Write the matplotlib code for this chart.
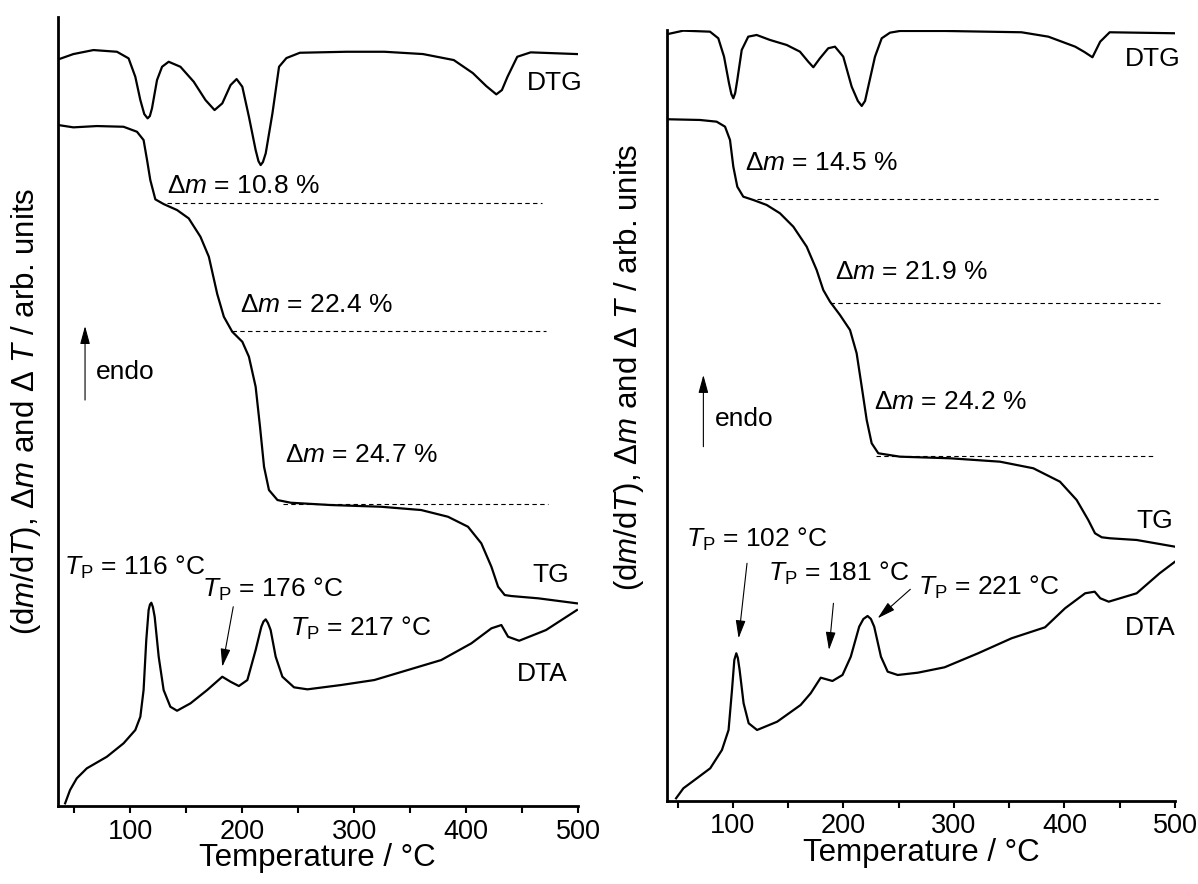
import matplotlib.pyplot as plt
from matplotlib.ticker import MultipleLocator

plt.rcParams['font.family'] = 'Liberation Sans'
plt.rcParams['mathtext.fontset'] = 'custom'
plt.rcParams['mathtext.rm'] = 'Liberation Sans'
plt.rcParams['mathtext.it'] = 'Liberation Sans:italic'

# ---- sample 1 (left) ----
dtg1_T = [35.8, 49.2, 67.1, 88.1, 98.5, 104.5, 109, 112.5, 115.5, 117.5, 119.4, 123.9, 128.4, 134.3,
          144.8, 156.7, 167.2, 175.3, 182.2, 189.6, 195, 200.1, 206, 212, 214.5, 216.5, 218.5, 221, 227,
          232.9, 239.5, 251.5, 293, 327, 361.5, 389, 406, 418, 427, 432, 437, 445.7, 457.7, 499]
dtg1_y = [746.7, 752, 756, 754.3, 747.7, 729.3, 706, 692, 687.7, 690, 697.7, 726, 739.3, 744.3,
          739.3, 724.3, 706, 696, 702.7, 721, 727, 719.3, 689.3, 656, 645, 641, 644, 652.7, 692.7,
          739.3, 748, 753.3, 754.3, 754.3, 752, 746, 733, 720, 711.7, 716, 729.3, 749.3, 753.7, 752]

tg1_T = [35.8, 49.2, 70.2, 94, 106, 111.9, 115, 117.9, 122.4, 129.8, 141.8, 152.2, 162.7, 170.2,
         177.7, 183.6, 191.1, 200.1, 206, 212, 215.9, 219.5, 223.9, 231.5, 243.4, 279.2, 324,
         359.9, 383.8, 401.7, 413.6, 422.6, 428.6, 434.5, 440.5, 464.6, 499]
tg1_y = [681, 678.7, 680, 679.3, 674.3, 666, 646, 626, 606.7, 602, 596, 587.7, 569.3, 549.3,
         512, 489.3, 474.3, 464.3, 449.3, 419.3, 379.3, 339.3, 316, 306, 303.3, 301, 299.3,
         296, 289.3, 279.3, 262.7, 239.3, 219.3, 211, 210, 207.7, 202.7]

dta1_T = [41.8, 46.2, 52.2, 61.2, 79.1, 94, 104.5, 109, 111.9, 114.3, 116.4, 117.6, 118.8, 120.2,
          121.8, 125.4, 129.8, 135.8, 141.8, 153.8, 168.7, 182.2, 189.6, 197, 204.6, 212, 217.1,
          219, 221, 223, 225.4, 229.9, 235.9, 246.3, 258.3, 288.2, 318, 347.9, 377.8, 404.7,
          422.6, 431.5, 437.5, 447.4, 471.4, 499]
dta1_y = [2.7, 16, 27.7, 37.7, 49.3, 62.7, 76, 89.3, 116, 166, 196, 201.5, 203.3, 199,
          189.3, 149.3, 116, 99.3, 95.3, 102.7, 116, 129.3, 124.3, 120, 126, 156, 179.3,
          184.5, 186.7, 183, 176, 149.3, 129.3, 118.7, 116.7, 121, 126, 136, 146, 162.7,
          177.7, 181, 169.3, 165.3, 176, 196]

# mass-loss steps: level and extent of the guide lines
step1_y = [603.3, 475, 302]
step1_T0 = [133, 191, 236]
step1_T1 = [468, 471, 473]
step1_dm = [10.8, 22.4, 24.7]

# ---- sample 2 (right) ----
dtg2_T = [41.4, 55, 79.2, 86.7, 91.9, 96.4, 98.5, 100.3, 102, 103.9, 107.9, 113.8, 121.4, 133.5,
          148.6, 160.6, 168.1, 172.7, 178.7, 186.2, 192.3, 199.8, 207.4, 213, 216.5, 219.5, 222.4,
          228.5, 234.6, 242.1, 251.1, 291.7, 361.1, 385.4, 409.7, 418, 425.3, 432.3, 440.9, 500]
dtg2_y = [767, 770.3, 769.3, 762.7, 744.3, 717.7, 707, 702.7, 708, 721, 751, 764.3, 766, 761,
          756, 749.3, 739.3, 733.7, 742.7, 752.7, 754.3, 744.3, 714.3, 700, 695, 700, 714.3,
          744.3, 762.7, 768.3, 770, 770, 768.7, 764.3, 754.3, 749, 743.7, 759.3, 768.7, 767.7]

tg2_T = [41.4, 70.1, 85.2, 92.8, 97.3, 100.3, 103.9, 109.3, 118.4, 130.5, 142.5, 154.6, 166.7,
         175.7, 181.7, 187.8, 196.8, 205.9, 211.9, 216.5, 221, 225.5, 231.5, 251.1, 296.4,
         341.6, 371.8, 395.9, 411, 421.5, 427.6, 433.7, 441.2, 465.3, 500]
tg2_y = [681.7, 681, 679.3, 674.3, 661, 634.3, 614.3, 604.3, 601, 596, 587.7, 574.3, 554.3,
         531, 511, 499.3, 486, 471, 447.7, 414.3, 381, 357.7, 347.7, 344.3, 342.7,
         339.3, 332.7, 319.3, 301, 281, 267.7, 263.7, 262.7, 261, 254.3]

dta2_T = [48.5, 55.1, 67.3, 79.4, 90, 96, 99.1, 101.2, 103, 104.4, 106, 109.6, 114.2, 121.8, 140,
          161.2, 170.3, 179.4, 190, 199.1, 206.6, 214.2, 218, 221.8, 224.8, 227.8, 233.9, 240,
          249.1, 267.3, 291.5, 321.8, 352.1, 382.4, 400.5, 418.7, 427.3, 432.4, 440, 465.3,
          486.1, 500]
dta2_y = [2.7, 12.7, 22.7, 32.7, 51, 71, 111, 141, 147.7, 143, 131, 97.7, 77.7, 71, 79.3,
          96, 107.7, 123.3, 120, 126, 144.3, 174.3, 182, 185, 182, 174.3, 144.3, 129.3,
          126, 128.3, 133.7, 147.7, 162.7, 173.7, 192.7, 207.7, 209.3, 202.7, 199.3, 207.7,
          227.7, 239.3]

step2_y = [602, 498.3, 345.3]
step2_T0 = [121.6, 187.5, 229]
step2_T1 = [486, 486, 482]
step2_dm = [14.5, 21.9, 24.2]

ylab = r'(d$m$/d$T$), $\Delta m$ and $\Delta$ $T$ / arb. units'

fig = plt.figure(figsize=(11.98, 8.84), dpi=100)
ax1 = fig.add_axes([0.0480, 0.0882, 0.4345, 0.8925])
ax2 = fig.add_axes([0.5565, 0.0939, 0.4243, 0.8722])


def style(ax, xmin, ytop):
    ax.set_xlim(xmin, 500)
    ax.set_ylim(0, ytop)
    for s in ['top', 'right']:
        ax.spines[s].set_visible(False)
    for s in ['left', 'bottom']:
        ax.spines[s].set_linewidth(2)
    ax.set_yticks([])
    ax.xaxis.set_major_locator(MultipleLocator(100))
    ax.xaxis.set_minor_locator(MultipleLocator(50))
    ax.tick_params(axis='x', which='both', direction='out', length=5, width=1.5,
                   labelsize=19.5, pad=4)
    ax.set_xlabel('Temperature / °C', fontsize=22.5, labelpad=-1)


def arrow(ax, x0, y0, x1, y1):
    ax.annotate('', xy=(x1, y1), xytext=(x0, y0),
                arrowprops=dict(arrowstyle='-|>,head_length=0.55,head_width=0.15',
                                lw=0.8, color='k', mutation_scale=20, shrinkA=0, shrinkB=0))


kw = dict(color='k', lw=1.6)
fs = 19

# left panel
ax1.plot(dtg1_T, dtg1_y, **kw)
ax1.plot(tg1_T, tg1_y, **kw)
ax1.plot(dta1_T, dta1_y, **kw)
for y, a, b in zip(step1_y, step1_T0, step1_T1):
    ax1.plot([a, b], [y, y], color='k', lw=0.8, ls=(0, (4, 3)))
style(ax1, 35, 789)
ax1.text(133, 612.7, 'Δ$m$ = %.1f %%' % step1_dm[0], fontsize=fs)
ax1.text(198, 493.7, 'Δ$m$ = %.1f %%' % step1_dm[1], fontsize=fs)
ax1.text(238, 343.7, 'Δ$m$ = %.1f %%' % step1_dm[2], fontsize=fs)
ax1.text(454.3, 716, 'DTG', fontsize=fs)
ax1.text(459.5, 224.3, 'TG', fontsize=fs)
ax1.text(445.7, 125.3, 'DTA', fontsize=fs)
ax1.text(69.4, 427, 'endo', fontsize=fs)
arrow(ax1, 59.6, 406, 59.6, 480)
ax1.text(40.5, 231, r'$T_\mathrm{P}$ = 116 °C', fontsize=fs)
ax1.text(163.9, 209.3, r'$T_\mathrm{P}$ = 176 °C', fontsize=fs)
ax1.text(243, 170, r'$T_\mathrm{P}$ = 217 °C', fontsize=fs)
arrow(ax1, 192, 199.3, 182.2, 139.3)
ax1.text(-0.0605, 0.5, ylab, transform=ax1.transAxes, rotation=90,
         ha='center', va='center', fontsize=22.5)

# right panel
ax2.plot(dtg2_T, dtg2_y, **kw)
ax2.plot(tg2_T, tg2_y, **kw)
ax2.plot(dta2_T, dta2_y, **kw)
for y, a, b in zip(step2_y, step2_T0, step2_T1):
    ax2.plot([a, b], [y, y], color='k', lw=0.8, ls=(0, (4, 3)))
style(ax2, 40, 771)
ax2.text(111.1, 631, 'Δ$m$ = %.1f %%' % step2_dm[0], fontsize=fs)
ax2.text(192.7, 521.7, 'Δ$m$ = %.1f %%' % step2_dm[1], fontsize=fs)
ax2.text(227.4, 392, 'Δ$m$ = %.1f %%' % step2_dm[2], fontsize=fs)
ax2.text(454.9, 735.3, 'DTG', fontsize=fs)
ax2.text(465.3, 272.7, 'TG', fontsize=fs)
ax2.text(454.9, 166, 'DTA', fontsize=fs)
ax2.text(83.3, 375.3, 'endo', fontsize=fs)
arrow(ax2, 73.2, 354.3, 73.2, 426)
ax2.text(57.3, 253.7, r'$T_\mathrm{P}$ = 102 °C', fontsize=fs)
ax2.text(132, 220.3, r'$T_\mathrm{P}$ = 181 °C', fontsize=fs)
ax2.text(267.4, 206, r'$T_\mathrm{P}$ = 221 °C', fontsize=fs)
arrow(ax2, 112.7, 237.7, 105.1, 162.7)
arrow(ax2, 190.9, 197.7, 186.9, 151)
arrow(ax2, 260.5, 211.7, 230.9, 182.7)
ax2.text(-0.0742, 0.563, ylab, transform=ax2.transAxes, rotation=90,
         ha='center', va='center', fontsize=22.5)

fig.savefig('out.png', dpi=100)
